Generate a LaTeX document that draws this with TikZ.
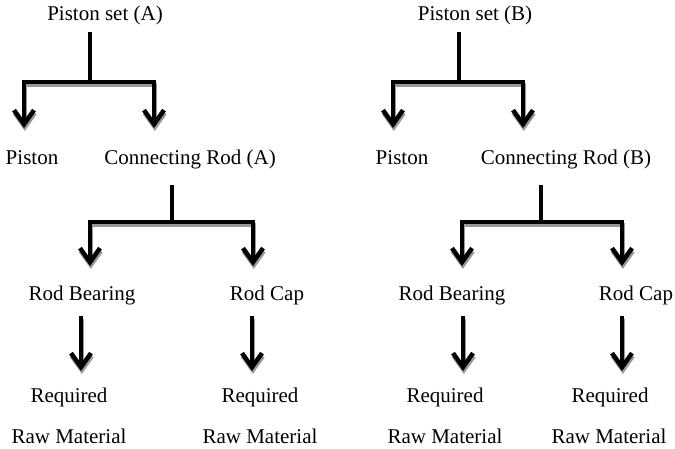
\documentclass[tikz,border=0pt]{standalone}
\usepackage{fontspec}
\setmainfont{Liberation Serif}
\usetikzlibrary{arrows.meta,positioning}
\tikzset{
  part/.style={anchor=base, inner sep=0pt, font=\fontsize{21}{25}\selectfont},
  stem/.style={line width=4.5pt, draw=black},
  flow/.style={-{Straight Barb[length=14pt, width=20pt]}, line width=4.5pt, draw=black,
    preaction={draw=black!40, line width=4.5pt, transform canvas={shift={(0.8pt,-3pt)}}}}
}

\begin{document}
\begin{tikzpicture}[x=1pt, y=-1pt]
  \useasboundingbox (0,0) rectangle (675,449);

  % piston set (A)
  \node[part] (setA) at (105,21) {Piston set (A)};
  \node[part] (pistonA) at (32,165) {Piston};
  \node[part] (rodA) at (190,165) {Connecting Rod (A)};
  \node[part] (bearA) at (82,301) {Rod Bearing};
  \node[part] (capA) at (267,301) {Rod Cap};
  \node[part] (reqA1) at (69,402) {Required};
  \node[part] (rawA1) at (69,443) {Raw Material};
  \node[part] (reqA2) at (260,402) {Required};
  \node[part] (rawA2) at (260,443) {Raw Material};

  \coordinate (forkA) at (90,82);
  \coordinate (tipA1) at (24,128);
  \coordinate (tipA2) at (154,128);
  \coordinate (forkA2) at (172,222);
  \coordinate (tipA3) at (90,266);
  \coordinate (tipA4) at (253,266);
  \coordinate (tipA5) at (81,371);
  \coordinate (tipA6) at (252,371);

  \draw[flow] (forkA) -| (tipA1);
  \draw[flow] (forkA) -| (tipA2);
  \draw[stem] ([yshift=-6pt]setA.south -| forkA) -- (forkA);
  \draw[flow] (forkA2) -| (tipA3);
  \draw[flow] (forkA2) -| (tipA4);
  \draw[stem] ([yshift=-15pt]rodA.south -| forkA2) -- (forkA2);
  \draw[flow, shorten <=10pt] (bearA.south -| tipA5) -- (tipA5);
  \draw[flow, shorten <=10pt] (capA.south -| tipA6) -- (tipA6);

  % piston set (B)
  \node[part] (setB) at (475,21) {Piston set (B)};
  \node[part] (pistonB) at (402,165) {Piston};
  \node[part] (rodB) at (566,165) {Connecting Rod (B)};
  \node[part] (bearB) at (452,301) {Rod Bearing};
  \node[part] (capB) at (636,301) {Rod Cap};
  \node[part] (reqB1) at (445,402) {Required};
  \node[part] (rawB1) at (445,443) {Raw Material};
  \node[part] (reqB2) at (610,402) {Required};
  \node[part] (rawB2) at (609,443) {Raw Material};

  \coordinate (forkB) at (459,82);
  \coordinate (tipB1) at (393,128);
  \coordinate (tipB2) at (523,128);
  \coordinate (forkB2) at (541,222);
  \coordinate (tipB3) at (462,266);
  \coordinate (tipB4) at (622,266);
  \coordinate (tipB5) at (463,371);
  \coordinate (tipB6) at (622,371);

  \draw[flow] (forkB) -| (tipB1);
  \draw[flow] (forkB) -| (tipB2);
  \draw[stem] ([yshift=-6pt]setB.south -| forkB) -- (forkB);
  \draw[flow] (forkB2) -| (tipB3);
  \draw[flow] (forkB2) -| (tipB4);
  \draw[stem] ([yshift=-15pt]rodB.south -| forkB2) -- (forkB2);
  \draw[flow, shorten <=10pt] (bearB.south -| tipB5) -- (tipB5);
  \draw[flow, shorten <=10pt] (capB.south -| tipB6) -- (tipB6);
\end{tikzpicture}
\end{document}
